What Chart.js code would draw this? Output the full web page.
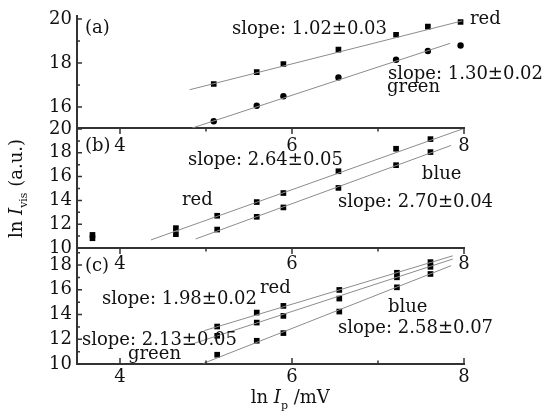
<!DOCTYPE html>
<html>
<head>
<meta charset="utf-8">
<script src="https://cdn.jsdelivr.net/npm/chart.js@4"></script>
<style>
  body { margin: 0; background: #fff; }
  #wrap { position: relative; width: 557px; height: 414px; }
  #wrap canvas { position: absolute; left: 0; top: 0; }
</style>
</head>
<body>
<div id="wrap">
  <canvas id="pa" width="557" height="414"></canvas>
  <canvas id="pb" width="557" height="414"></canvas>
  <canvas id="pc" width="557" height="414"></canvas>
</div>
<script>
// x ticks (shared by all panels)
const xMajor = [4, 6, 8];
const xMinor = [5, 7];

// panel (a)
const xA = [5.09, 5.59, 5.90, 6.54, 7.21, 7.58, 7.96];
const redA = [17.05, 17.59, 17.96, 18.61, 19.29, 19.66, 19.87];
const greenA = [15.36, 16.06, 16.49, 17.35, 18.15, 18.55, 18.80];
const redFitA = [[4.81, 16.79], [7.98, 19.92]];
const greenFitA = [[4.84, 15.05], [7.84, 18.9]];
const yMajorA = [16, 18, 20];
const yMinorA = [17, 19];

// panel (b)
const xB = [3.68, 4.65, 5.13, 5.59, 5.90, 6.54, 7.21, 7.61];
const redB = [11.1, 11.67, 12.71, 13.86, 14.62, 16.45, 18.34, 19.15];
const blueB = [10.82, 11.16, 11.55, 12.62, 13.41, 15.05, 16.96, 18.06];
const redFitB = [[4.36, 10.68], [8.0, 20.05]];
const blueFitB = [[4.88, 10.76], [7.85, 18.62]];
const yMajorB = [10, 12, 14, 16, 18, 20];
const yMinorB = [11, 13, 15, 17, 19];

// panel (c)
const xC = [5.13, 5.59, 5.90, 6.55, 7.22, 7.61];
const redC = [13.03, 14.16, 14.70, 15.99, 17.38, 18.24];
const greenC = [12.28, 13.35, 13.89, 15.29, 17.01, 17.86];
const blueC = [10.75, 11.88, 12.50, 14.24, 16.20, 17.28];
const redFitC = [[4.98, 12.7], [7.87, 18.75]];
const greenFitC = [[4.81, 11.55], [7.87, 18.49]];
const blueFitC = [[4.97, 10.05], [7.85, 17.95]];
const yMajorC = [10, 12, 14, 16, 18];
const yMinorC = [11, 13, 15, 17, 19];

const FONT = "DejaVu Serif";
const axisColor = "#333";
const textColor = "#111";
const fitColor = "#8c8c8c";

const pts = (xs, ys) => xs.map((x, i) => ({ x, y: ys[i] }));
const seg = (p) => p.map(([x, y]) => ({ x, y }));

const markers = (xs, ys, style) => ({
  data: pts(xs, ys),
  showLine: false,
  pointStyle: style,
  pointRadius: style === "rect" ? 4 : 3.2,
  backgroundColor: "#000",
  borderColor: "#000",
  borderWidth: 0,
});
const fit = (p) => ({
  data: seg(p),
  showLine: true,
  pointRadius: 0,
  borderColor: fitColor,
  borderWidth: 1,
});

// draws text made of several pieces (italic, subscript)
function drawRich(ctx, parts, x, y, align) {
  let w = 0;
  parts.forEach((p) => { ctx.font = p.font; w += ctx.measureText(p.t).width; });
  let cx = align === "center" ? x - w / 2 : x;
  parts.forEach((p) => {
    ctx.font = p.font;
    ctx.fillText(p.t, cx, y + (p.dy || 0));
    cx += ctx.measureText(p.t).width;
  });
}

const ticksPlugin = {
  id: "innerTicks",
  afterDraw(chart, args, o) {
    const { ctx, chartArea: a, scales: { x, y } } = chart;
    ctx.save();
    ctx.strokeStyle = axisColor;
    ctx.lineWidth = 1.5;
    ctx.beginPath();
    xMajor.forEach((v) => { const p = x.getPixelForValue(v); ctx.moveTo(p, a.bottom); ctx.lineTo(p, a.bottom + o.xDir * 6); });
    xMinor.forEach((v) => { const p = x.getPixelForValue(v); ctx.moveTo(p, a.bottom); ctx.lineTo(p, a.bottom + o.xDir * 3.5); });
    o.yMajor.forEach((v) => { const p = y.getPixelForValue(v); ctx.moveTo(a.left, p); ctx.lineTo(a.left + 5, p); });
    o.yMinor.forEach((v) => {
      if (v > y.max) return;
      const p = y.getPixelForValue(v); ctx.moveTo(a.left, p); ctx.lineTo(a.left + 3, p);
    });
    ctx.stroke();
    ctx.restore();
  },
};

const labelsPlugin = {
  id: "labels",
  afterDatasetsDraw(chart, args, o) {
    const { ctx, scales: { x, y } } = chart;
    ctx.save();
    ctx.fillStyle = textColor;
    ctx.textBaseline = "alphabetic";
    ctx.textAlign = "left";
    ctx.font = "18px " + FONT;
    o.items.forEach((l) => ctx.fillText(l.text, x.getPixelForValue(l.x), y.getPixelForValue(l.y)));
    if (o.yTitle) {
      ctx.translate(22, (chart.chartArea.top + chart.chartArea.bottom) / 2);
      ctx.rotate(-Math.PI / 2);
      drawRich(ctx, [
        { t: "ln ", font: "18px " + FONT },
        { t: "I", font: "italic 18px " + FONT },
        { t: "vis", font: "11px " + FONT, dy: 5 },
        { t: " (a.u.)", font: "18px " + FONT },
      ], 0, 0, "center");
    }
    if (o.xTitle) {
      drawRich(ctx, [
        { t: "ln ", font: "18px " + FONT },
        { t: "I", font: "italic 18px " + FONT },
        { t: "p", font: "11px " + FONT, dy: 6 },
        { t: " /mV", font: "18px " + FONT },
      ], x.getPixelForValue(5.98), 403, "center");
    }
    ctx.restore();
  },
};

function panel(id, top, bottom, yMin, yMax, yMajor, yMinor, xPad, xDir, datasets, items, extra) {
  const xH = 40;
  new Chart(document.getElementById(id), {
    type: "scatter",
    data: { datasets },
    options: {
      responsive: false,
      animation: false,
      layout: { padding: { left: 0, top: top, right: 557 - 464, bottom: 414 - bottom - xH } },
      plugins: {
        legend: { display: false },
        tooltip: { enabled: false },
        innerTicks: { xDir, yMajor, yMinor },
        labels: Object.assign({ items }, extra),
      },
      scales: {
        x: {
          type: "linear",
          min: 3.5,
          max: 8,
          afterFit: (s) => { s.height = xH; },
          afterBuildTicks: (s) => { s.ticks = xMajor.map((v) => ({ value: v })); },
          grid: { display: false, drawTicks: false },
          border: { display: true, color: axisColor, width: 2 },
          ticks: { font: { family: FONT, size: 18 }, color: textColor, padding: xPad, autoSkip: false, maxRotation: 0 },
        },
        y: {
          min: yMin,
          max: yMax,
          afterFit: (s) => { s.width = 77; },
          afterBuildTicks: (s) => { s.ticks = yMajor.map((v) => ({ value: v })); },
          grid: { display: false, drawTicks: false },
          border: { display: true, color: axisColor, width: 2 },
          ticks: { font: { family: FONT, size: 18 }, color: textColor, padding: 5, autoSkip: false },
        },
      },
    },
    plugins: [ticksPlugin, labelsPlugin],
  });
}

panel("pa", 13, 128, 15.05, 20.15, yMajorA, yMinorA, 8, 1, [
  fit(redFitA), fit(greenFitA),
  markers(xA, redA, "rect"), markers(xA, greenA, "circle"),
], [
  { text: "(a)", x: 3.593, y: 19.35 },
  { text: "slope: 1.02\u00b10.03", x: 5.302, y: 19.32 },
  { text: "red", x: 8.07, y: 19.80 },
  { text: "slope: 1.30\u00b10.02", x: 7.116, y: 17.27 },
  { text: "green", x: 7.105, y: 16.69 },
], {});

panel("pb", 129, 248, 10, 20, yMajorB, yMinorB, 6, 1, [
  fit(redFitB), fit(blueFitB),
  markers(xB, redB, "rect"), markers(xB, blueB, "rect"),
], [
  { text: "(b)", x: 3.593, y: 18.15 },
  { text: "slope: 2.64\u00b10.05", x: 4.79, y: 16.97 },
  { text: "red", x: 4.72, y: 13.61 },
  { text: "blue", x: 7.51, y: 15.80 },
  { text: "slope: 2.70\u00b10.04", x: 6.535, y: 13.45 },
], { yTitle: true });

panel("pc", 249, 364, 10, 19.3, yMajorC, yMinorC, 3, -1, [
  fit(redFitC), fit(greenFitC), fit(blueFitC),
  markers(xC, redC, "rect"), markers(xC, greenC, "rect"), markers(xC, blueC, "rect"),
], [
  { text: "(c)", x: 3.593, y: 17.52 },
  { text: "slope: 1.98\u00b10.02", x: 3.79, y: 14.85 },
  { text: "red", x: 5.628, y: 15.74 },
  { text: "slope: 2.13\u00b10.05", x: 3.558, y: 11.54 },
  { text: "green", x: 4.093, y: 10.40 },
  { text: "blue", x: 7.116, y: 14.20 },
  { text: "slope: 2.58\u00b10.07", x: 6.535, y: 12.51 },
], { xTitle: true });
</script>
</body>
</html>
